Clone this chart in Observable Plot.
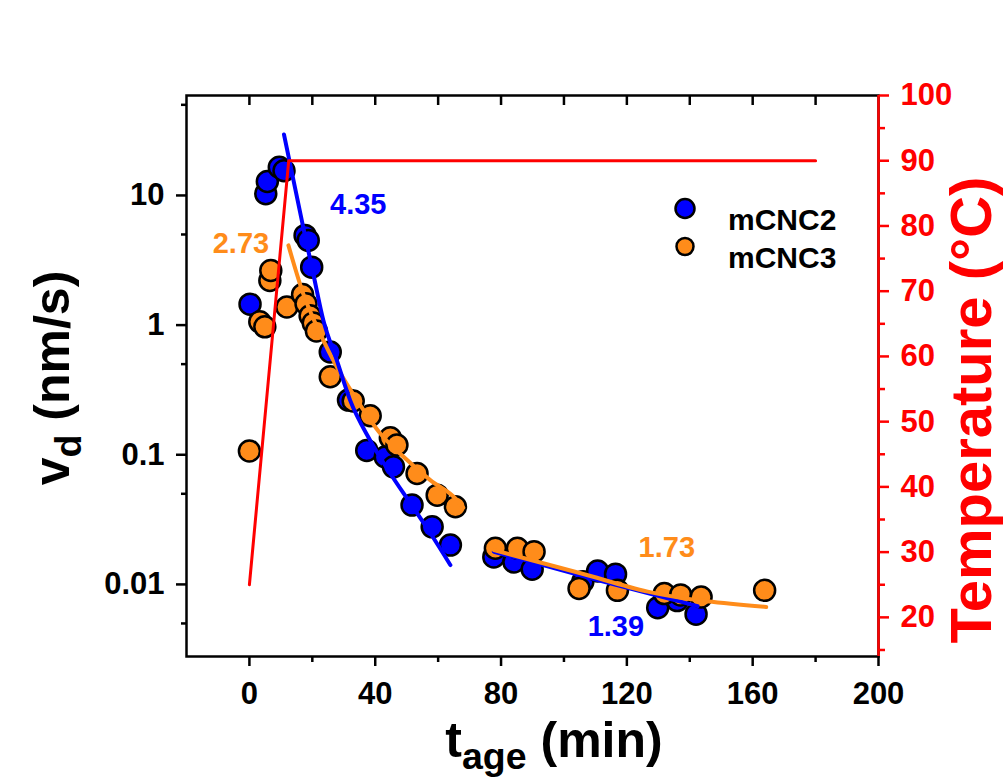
<!DOCTYPE html>
<html><head><meta charset="utf-8">
<script src="https://cdn.jsdelivr.net/npm/d3@7"></script>
<script src="https://cdn.jsdelivr.net/npm/@observablehq/plot@0.6"></script>
<style>
body{margin:0;background:#fff;}
#wrap{position:relative;width:1005px;height:778px;overflow:hidden;font-family:"Liberation Sans",Arial,sans-serif;font-weight:bold;}
#wrap svg{position:absolute;left:0;top:0;}
.title{position:absolute;white-space:nowrap;line-height:1;transform:translate(-50%,-50%);}
.rot{transform:translate(-50%,-50%) rotate(-90deg);}
.sub{font-size:0.75em;position:relative;top:0.32em;}
</style></head><body><div id="wrap"></div>
<script>
// ---- data ----
const mCNC2_t = [0.2, 5.2, 5.7, 9.5, 11.0, 17.7, 18.7, 19.8, 25.7, 31.5, 37.3, 43.2, 45.8, 51.7, 58.1, 63.9, 77.7, 84.1, 89.9, 106, 110.7, 116.4, 129.8, 136, 142];
const mCNC2_v = [1.45, 10.3, 12.8, 16.5, 15.5, 4.92, 4.5, 2.8, 0.62, 0.264, 0.108, 0.096, 0.0807, 0.0409, 0.0278, 0.0201, 0.0163, 0.0149, 0.0131, 0.0105, 0.0127, 0.012, 0.0066, 0.0075, 0.0059];
const mCNC3_t = [0, 3.3, 4.9, 6.5, 6.8, 11.9, 16.9, 18.0, 19.3, 20.3, 21.3, 25.7, 33.0, 38.4, 44.8, 46.9, 53.3, 59.7, 65.5, 78.2, 85.2, 90.5, 104.8, 117, 131.9, 137.1, 143.6, 163.8];
const mCNC3_v = [0.107, 1.06, 0.97, 2.21, 2.64, 1.38, 1.72, 1.46, 1.18, 1.04, 0.90, 0.40, 0.26, 0.20, 0.135, 0.119, 0.0717, 0.0488, 0.0397, 0.019, 0.019, 0.0179, 0.0093, 0.0090, 0.0085, 0.0083, 0.0080, 0.0090];

// fitted curves
const fit2a_t = [11.0, 17.1, 20.3, 23.5, 27.8, 32.0, 38.4, 44.8, 51.2, 57.6, 63.9];
const fit2a_v = [29.5, 5.70, 2.49, 1.09, 0.535, 0.264, 0.129, 0.0717, 0.0421, 0.0247, 0.0141];
const fit3a_t = [12.4, 17.1, 22.5, 27.8, 34.2, 41.6, 49.0, 57.5, 66.0, 68.0];
const fit3a_v = [4.12, 1.75, 0.86, 0.475, 0.264, 0.146, 0.0964, 0.0637, 0.0447, 0.039];
const fit2b_t = [77.7, 110.7, 142.5];
const fit2b_v = [0.0179, 0.0108, 0.0068];
const fit3b_t = [77.7, 105.3, 126.6, 164.3];
const fit3b_v = [0.0184, 0.0122, 0.0088, 0.0067];

// exponent annotations
const noteText = ["4.35", "2.73", "1.73", "1.39"];
const noteSeries = ["mCNC2", "mCNC3", "mCNC3", "mCNC2"];
const noteT = [34.6, -2.7, 132.7, 116.5];
const noteV = [8.53, 4.27, 0.0191, 0.00468];

// temperature profile
const tempT = [0, 12.5, 180];
const tempC = [25, 90, 90];

// ticks
const xMajor = [0, 40, 80, 120, 160, 200];
const xMinor = [20, 60, 100, 140, 180];
const xTop = [0, 20, 40, 60, 80, 100, 120, 140, 160, 180];
const yMajor = [0.01, 0.1, 1, 10];
const yMinor = [0.005, 0.05, 0.5, 5, 50];
const tMajor = [20, 30, 40, 50, 60, 70, 80, 90, 100];
const tMinor = [15, 25, 35, 45, 55, 65, 75, 85, 95];
const seriesNames = ["mCNC2", "mCNC3"];

// ---- styling ----
const BLUE = "#0000ff", ORANGE = "#ff8c1a", RED = "#ff0000";
const colorOf = {mCNC2: BLUE, mCNC3: ORANGE};
const FONT = "'Liberation Sans', Arial, sans-serif";
const W = 1005, H = 778, mL = 186, mR = 127, mT = 95, mB = 122;

const rows = (ts, vs) => ts.map((t, i) => ({t, v: vs[i]}));
const blueRows = rows(mCNC2_t, mCNC2_v);
const orangeRows = rows(mCNC3_t, mCNC3_v);
const notes = noteText.map((s, i) => ({s, t: noteT[i], v: noteV[i], c: colorOf[noteSeries[i]]}));
const tempRows = tempT.map((t, i) => ({t, c: tempC[i]}));

const common = {
  width: W, height: H, marginLeft: mL, marginRight: mR, marginTop: mT, marginBottom: mB,
  style: {background: "transparent", fontFamily: FONT, fontWeight: "bold", fontSize: "30px", color: "black", overflow: "visible"}
};

const p1 = Plot.plot({
  ...common,
  x: {domain: [-20, 200]},
  y: {type: "log", domain: [0.00278, 59]},
  marks: [
    Plot.dot(blueRows, {x: "t", y: "v", r: 10.5, fill: BLUE, stroke: "black", strokeWidth: 2.5}),
    Plot.dot(orangeRows, {x: "t", y: "v", r: 10.5, fill: ORANGE, stroke: "black", strokeWidth: 2.5}),
    Plot.line(rows(fit3a_t, fit3a_v), {x: "t", y: "v", stroke: ORANGE, strokeWidth: 4, curve: "monotone-x"}),
    Plot.line(rows(fit2a_t, fit2a_v), {x: "t", y: "v", stroke: BLUE, strokeWidth: 4, curve: "monotone-x"}),
    Plot.line(rows(fit2b_t, fit2b_v), {x: "t", y: "v", stroke: BLUE, strokeWidth: 4, curve: "monotone-x"}),
    Plot.line(rows(fit3b_t, fit3b_v), {x: "t", y: "v", stroke: ORANGE, strokeWidth: 4, curve: "monotone-x"}),
    Plot.text(notes, {x: "t", y: "v", text: "s", fill: "c", fontSize: 29, fontWeight: "bold"}),
    Plot.frame({stroke: "black", strokeWidth: 2.5}),
    Plot.axisX({ticks: xMajor, anchor: "bottom", tickSize: 10, tickPadding: 15, strokeWidth: 2.5, fontSize: 31, fontWeight: "bold", tickFormat: d => String(d), label: null}),
    Plot.axisX({ticks: xMinor, anchor: "bottom", tickSize: 6, strokeWidth: 2.5, tickFormat: () => "", label: null}),
    Plot.tickX(xTop, {x: d => d, stroke: "black", strokeWidth: 2.5, insetBottom: H - mT - mB - 10}),
    Plot.axisY({ticks: yMajor, anchor: "left", tickSize: 10, tickPadding: 12, strokeWidth: 2.5, fontSize: 31, fontWeight: "bold", tickFormat: d => String(d), label: null}),
    Plot.axisY({ticks: yMinor, anchor: "left", tickSize: 5, strokeWidth: 2.5, tickFormat: () => "", label: null}),
    // legend
    Plot.dot(seriesNames, {filter: d => d === "mCNC2", frameAnchor: "top-right", dx: -193.5, dy: 113, r: 9.5, fill: d => colorOf[d], stroke: "black", strokeWidth: 2.5}),
    Plot.dot(seriesNames, {filter: d => d === "mCNC3", frameAnchor: "top-right", dx: -193.5, dy: 151, r: 8.5, fill: d => colorOf[d], stroke: "black", strokeWidth: 2.5}),
    Plot.text(seriesNames, {filter: d => d === "mCNC2", frameAnchor: "top-right", dx: -150.5, dy: 113, textAnchor: "start", fontSize: 30, fontWeight: "bold", fill: "black"}),
    Plot.text(seriesNames, {filter: d => d === "mCNC3", frameAnchor: "top-right", dx: -150.5, dy: 151, textAnchor: "start", fontSize: 30, fontWeight: "bold", fill: "black"})
  ]
});

const p2 = Plot.plot({
  ...common,
  x: {domain: [-20, 200], axis: null},
  y: {domain: [14, 100]},
  marks: [
    Plot.ruleX([200], {stroke: RED, strokeWidth: 2.5}),
    Plot.line(tempRows, {x: "t", y: "c", stroke: RED, strokeWidth: 3}),
    Plot.axisY({ticks: tMajor, anchor: "right", tickSize: 10, tickPadding: 12, strokeWidth: 2.5, color: RED, fill: RED, stroke: RED, fontSize: 31, fontWeight: "bold", label: null}),
    Plot.axisY({ticks: tMinor, anchor: "right", tickSize: 6, strokeWidth: 2.5, stroke: RED, tickFormat: () => "", label: null})
  ]
});

const wrap = document.getElementById("wrap");
wrap.appendChild(p1);
wrap.appendChild(p2);

function addTitle(html, left, top, size, rot, color) {
  const d = document.createElement("div");
  d.className = "title" + (rot ? " rot" : "");
  d.style.left = left + "px";
  d.style.top = top + "px";
  d.style.fontSize = size + "px";
  d.style.color = color;
  d.innerHTML = html;
  wrap.appendChild(d);
}
addTitle('v<span class="sub">d</span> (nm/s)', 52, 378, 50, true, "black");
addTitle('t<span class="sub">age</span> (min)', 554, 740, 50, false, "black");
addTitle('Temperature (°C)', 971, 410, 58, true, RED);
</script>
</body></html>
